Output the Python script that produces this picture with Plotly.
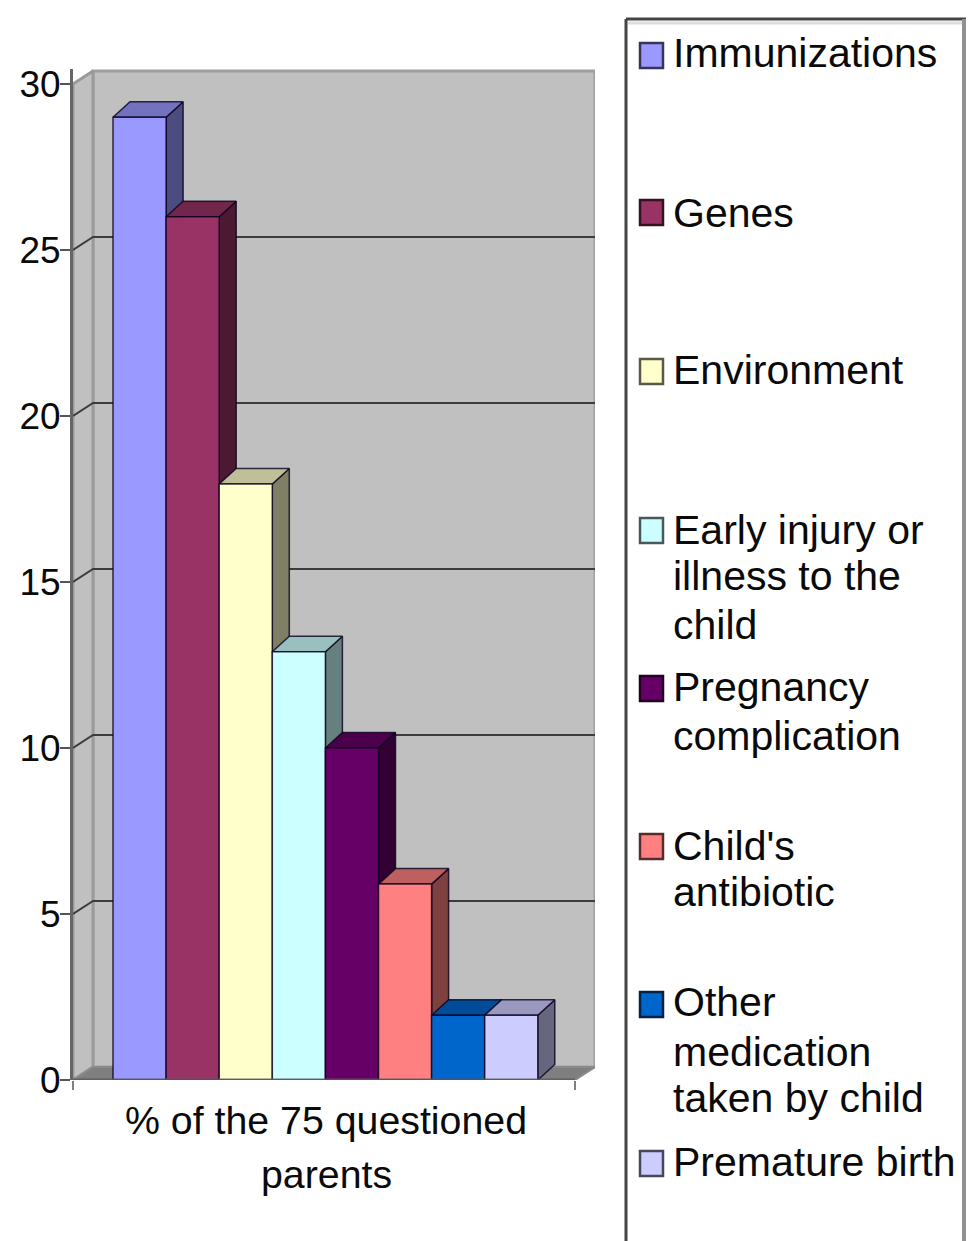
import plotly.graph_objects as go

categories = ["Immunizations", "Genes", "Environment", "Early injury or illness to the child",
              "Pregnancy complication", "Child's antibiotic", "Other medication taken by child", "Premature birth"]
values = [29, 26, 17.95, 12.9, 10, 5.9, 1.95, 1.95]
front_colors = ["#9999ff", "#993366", "#ffffcc", "#ccffff", "#660066", "#ff8080", "#0066cc", "#ccccff"]
y_ticks = [0, 5, 10, 15, 20, 25, 30]
axis_title_lines = ["% of the 75 questioned", "parents"]
legend_lines = [["Immunizations"], ["Genes"], ["Environment"],
                ["Early injury or", "illness to the", "child"],
                ["Pregnancy", "complication"], ["Child's", "antibiotic"],
                ["Other", "medication", "taken by child"], ["Premature birth"]]

W, H = 970, 1241
FONT = "Liberation Sans"
UX, UY = 53.1, 33.2          # px per bar slot, px per y unit
X0PX, Y0PX = 113, 1080       # pixel of first bar's left edge, pixel of y=0
LEFT, RIGHT = 73, 595
lo, hi = (LEFT - X0PX) / UX, (RIGHT - X0PX) / UX
ytop = 30.45
WX, WY = 20 / UX, 13 / UY    # wall depth
BX, BY = 17 / UX, 15.5 / UY  # bar depth

def shade(c, f):
    r, g, b = int(c[1:3], 16), int(c[3:5], 16), int(c[5:7], 16)
    return f"rgb({int(r*f)},{int(g*f)},{int(b*f)})"

fig = go.Figure()

def poly(xs, ys, fill, line=None, width=1.5):
    fig.add_trace(go.Scatter(x=xs + xs[:1], y=ys + ys[:1], mode="lines", fill="toself", fillcolor=fill,
                             line=dict(color=line or fill, width=width), hoverinfo="skip",
                             showlegend=False, cliponaxis=False))

def seg(xs, ys, color, width=2):
    fig.add_trace(go.Scatter(x=xs, y=ys, mode="lines", line=dict(color=color, width=width),
                             hoverinfo="skip", showlegend=False, cliponaxis=False))

# Walls and floor
poly([lo + WX, hi, hi, lo + WX], [WY, WY, 30 + WY, 30 + WY], "#c0c0c0", "#a0a0a0", 3)
poly([lo, lo + WX, lo + WX, lo], [0, WY, 30 + WY, 30], "#c0c0c0", "#9a9a9a", 3)
poly([lo, lo + WX, hi, hi - WX], [0, WY, WY, 0], "#7f7f7f", "#8a8a8a", 2)
for t in y_ticks[1:-1]:
    seg([lo, lo + WX, hi], [t, t + WY, t + WY], "#3c3c3c", 2)

# Bars: left to right so each one overlaps its neighbour's side face
for i, (v, c) in enumerate(zip(values, front_colors)):
    x0, x1 = float(i), float(i + 1)
    edge = "rgba(10,0,30,0.8)"
    poly([x1, x1 + BX, x1 + BX, x1], [0, BY, v + BY, v], shade(c, 0.5), edge)
    poly([x0, x0 + BX, x1 + BX, x1], [v, v + BY, v + BY, v], shade(c, 0.75), edge)
    poly([x0, x1, x1, x0], [0, 0, v, v], c, edge)

# Front axes
seg([lo, hi - WX], [0, 0], "rgba(90,90,90,0.85)", 3)

fig.update_layout(
    width=W, height=H, autosize=False, margin=dict(l=0, r=0, t=0, b=0, pad=0), paper_bgcolor="white",
    plot_bgcolor="white", showlegend=False, font=dict(family=FONT, size=38, color="#0a0a0a"),
    xaxis=dict(domain=[LEFT / W, RIGHT / W], range=[lo, hi], showgrid=False, zeroline=False, showline=False,
               automargin=False, tickmode="array", tickvals=[lo, hi - WX], ticktext=["", ""], ticks="outside",
               ticklen=9, tickwidth=2, tickcolor="#808080"),
    yaxis=dict(domain=[1 - (Y0PX) / H, 1 - (Y0PX - ytop * UY) / H], range=[0, ytop], showgrid=False,
               zeroline=False, showline=True, linecolor="#666666", linewidth=3, automargin=False,
               tickmode="array", tickvals=y_ticks, ticks="outside", ticklen=10, tickwidth=2, tickcolor="#555555",
               ticklabelstandoff=-8, tickfont=dict(family=FONT, size=37)),
)

px = lambda p: p / W
py = lambda p: 1 - p / H
annotations, shapes = [], []

def text(cx, cy, s, size, anchor="left"):
    annotations.append(dict(text=s, xref="paper", yref="paper", x=px(cx), y=py(cy), xanchor=anchor,
                            yanchor="middle", showarrow=False, font=dict(family=FONT, size=size, color="#0a0a0a")))

for s, cy in zip(axis_title_lines, [1120, 1174]):
    text(326, cy, s, 39.3, "center")

# Legend box (runs off the bottom of the picture)
for xs, ys, col, w in [((626, 626), (19, H), "#444444", 3), ((626, 966), (19, 19), "#444444", 3),
                       ((628, 964), (23, 23), "#dddddd", 3), ((964, 964), (19, H), "#909090", 4)]:
    shapes.append(dict(type="line", xref="paper", yref="paper", x0=px(xs[0]), x1=px(xs[1]),
                       y0=py(ys[0]), y1=py(ys[1]), line=dict(color=col, width=w)))

swatch_tops = [43, 200, 359, 518, 676, 834, 992, 1151]
line_centers = [[53], [213], [370], [530, 576, 625], [687, 736], [846, 892], [1002, 1052, 1098], [1162]]
for c, top, lines, centers in zip(front_colors, swatch_tops, legend_lines, line_centers):
    shapes.append(dict(type="rect", xref="paper", yref="paper", x0=px(640), x1=px(663), y0=py(top), y1=py(top + 25),
                       fillcolor=c, line=dict(color=shade(c, 0.35), width=2.5)))
    for s, cy in zip(lines, centers):
        text(671, cy, s, 41)

fig.update_layout(annotations=annotations, shapes=shapes)
fig.write_html("out.html", config=dict(displayModeBar=False), post_script="document.body.style.margin='0';")
